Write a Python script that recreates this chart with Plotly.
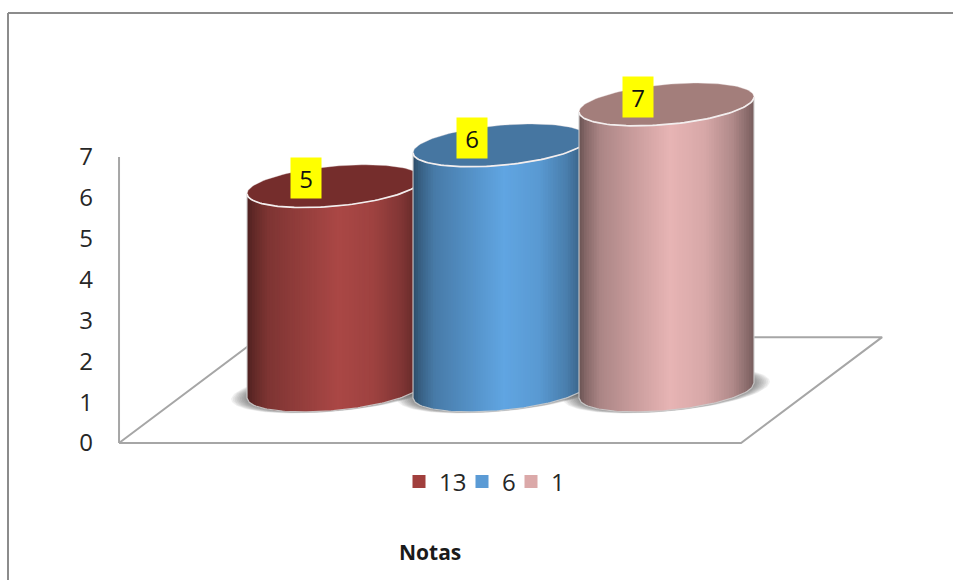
import numpy as np
import plotly.graph_objects as go

# Chart data
categories = ["13", "6", "1"]
values = [5, 6, 7]
y_ticks = [0, 1, 2, 3, 4, 5, 6, 7]
axis_title = "Notas"

# Colours per series: lit side and cylinder cap
side_colors = [(170, 71, 69), (96, 165, 226), (231, 180, 180)]
cap_colors = ["#752d2c", "#4676a1", "#a37e7b"]
legend_colors = ["#a13f3d", "#5b9bd5", "#dba9a9"]

# Canvas and the pixel scale of the two axes
W, H = 953, 580
PX_X0, PX_Y0 = 334.5, 443       # pixel of category 0 and of value 0
PX_PER_CAT, PX_PER_UNIT = 166, 40.86
X_RANGE = [-PX_X0 / PX_PER_CAT, (W - PX_X0) / PX_PER_CAT]
Y_RANGE = [(PX_Y0 - H) / PX_PER_UNIT, PX_Y0 / PX_PER_UNIT]

# Oblique projection used for the 3-D look, in axis units
CYL_RX = 0.527        # cylinder half width
CYL_RY = 0.49         # ellipse half height
CYL_SHEAR = 0.184     # rise of the ellipse towards its right end
FLOOR_LIFT = 1.285    # height of the cylinder base centre above the front edge
FLOOR_DX, FLOOR_DY = 0.85, 2.59
X_MIN, X_MAX = -1.298, 2.449   # front edge of the floor
N_STRIPS = 70

# Horizontal brightness profile of a lit cylinder
SHADE_POS = [0.0, 0.04, 0.12, 0.30, 0.52, 0.72, 0.88, 0.96, 1.0]
SHADE_VAL = [0.46, 0.58, 0.74, 0.86, 1.0, 0.93, 0.76, 0.60, 0.52]


def ellipse(cx, cy, t, grow_x=0.0, grow_y=0.0):
    """Sheared ellipse lying on a horizontal plane."""
    rx = CYL_RX + grow_x
    return (cx + rx * np.cos(t),
            cy + (CYL_RY + grow_y) * np.sin(t) + CYL_SHEAR * (rx / CYL_RX) * np.cos(t))


def front_edge(dx):
    """Lower outline of the ellipse at horizontal offset dx from its centre."""
    u = np.clip(dx / CYL_RX, -1, 1)
    return -CYL_RY * np.sqrt(1 - u * u) + CYL_SHEAR * u


def shade_color(rgb, k):
    return "rgb({},{},{})".format(*[int(round(c * k)) for c in rgb])


fig = go.Figure()
common = dict(hoverinfo="skip", showlegend=False)
GRID = dict(color="#a6a6a6", width=2)

# Value axis line and the floor parallelogram
fig.add_trace(go.Scatter(x=[X_MIN, X_MIN], y=[y_ticks[0], y_ticks[-1]],
                         mode="lines", line=GRID, **common))
fig.add_trace(go.Scatter(
    x=[X_MIN, X_MAX, X_MAX + FLOOR_DX, X_MIN + FLOOR_DX, X_MIN],
    y=[0, 0, FLOOR_DY, FLOOR_DY, 0],
    mode="lines", line=GRID, **common))

# Soft contact shadows on the floor
theta = np.linspace(0, 2 * np.pi, 121)
for i in range(len(values)):
    for g in np.linspace(0.095, 0.0, 10):
        sx, sy = ellipse(i, FLOOR_LIFT, theta, grow_x=g, grow_y=g * 0.3)
        fig.add_trace(go.Scatter(
            x=sx, y=sy, mode="lines", fill="toself", line=dict(width=0),
            fillcolor="rgba(60,60,60,0.08)", **common))

# Cylinders, left to right so each one hides part of its neighbour
for i, (value, rgb, cap) in enumerate(zip(values, side_colors, cap_colors)):
    edges = np.linspace(-CYL_RX, CYL_RX, N_STRIPS + 1)
    for j in range(N_STRIPS):
        left = edges[j]
        right = edges[min(j + 2, N_STRIPS)]
        frac = (edges[j] + edges[j + 1] + 2 * CYL_RX) / (4 * CYL_RX)
        shade = float(np.interp(frac, SHADE_POS, SHADE_VAL))
        fine = np.linspace(left, right, 4)
        low = FLOOR_LIFT + front_edge(fine)
        fig.add_trace(go.Scatter(
            x=np.r_[i + fine, i + fine[::-1]],
            y=np.r_[low, (low + value)[::-1]],
            mode="lines", fill="toself", line=dict(width=0),
            fillcolor=shade_color(rgb, shade), **common))

    # Pale outline of the side wall
    fine = np.linspace(-CYL_RX, CYL_RX, 80)
    low = FLOOR_LIFT + front_edge(fine)
    fig.add_trace(go.Scatter(
        x=np.r_[i + fine[0], i + fine, i + fine[-1]],
        y=np.r_[low[0] + value, low, low[-1] + value],
        mode="lines", line=dict(color="rgba(205,205,205,0.9)", width=1.2), **common))

    # Cap
    top = FLOOR_LIFT + value
    cx, cy = ellipse(i, top, theta)
    fig.add_trace(go.Scatter(
        x=cx, y=cy, mode="lines", fill="toself", fillcolor=cap,
        line=dict(color="rgba(235,225,225,0.45)", width=0.8), **common))
    rim = np.linspace(np.pi, 2 * np.pi, 70)
    rx_, ry_ = ellipse(i, top, rim)
    fig.add_trace(go.Scatter(
        x=rx_, y=ry_, mode="lines",
        line=dict(color="#f3eeee", width=1.7), **common))

# One single-entry legend per series so the keys sit at their own positions
LEGEND_LEFT_PX = [399, 462, 511]
legends = {}
for k, (name, color, left_px) in enumerate(zip(categories, legend_colors, LEGEND_LEFT_PX)):
    key = "legend" if k == 0 else f"legend{k + 1}"
    fig.add_trace(go.Scatter(
        x=[None], y=[None], mode="markers", name=name, legend=key,
        marker=dict(symbol="square", size=13, color=color)))
    legends[key] = dict(xanchor="left", yanchor="middle", x=left_px / W, y=1 - 482 / H,
                        itemsizing="trace", font=dict(size=24, color="#262626"),
                        bgcolor="rgba(0,0,0,0)", itemclick=False, itemdoubleclick=False)

# Value labels on yellow tags
annotations = [
    dict(x=i - 0.172, y=FLOOR_LIFT + v + 0.19, xref="x", yref="y", text=str(v),
         showarrow=False, bgcolor="#ffff00", width=30, height=40, borderpad=0,
         font=dict(family="Open Sans", size=24, color="#111111"))
    for i, v in enumerate(values)
]

# Axis title, centred under the front edge of the floor
annotations.append(dict(
    x=(X_MIN + X_MAX) / 2, y=1 - 552 / H, xref="x", yref="paper", yanchor="middle",
    text="<b>" + axis_title + "</b>", showarrow=False,
    font=dict(family="Open Sans", size=21, color="#1a1a1a")))

paper_x = lambda px: px / W
paper_y = lambda px: 1 - px / H

fig.update_layout(
    width=W, height=H,
    margin=dict(l=0, r=0, t=0, b=0, autoexpand=False),
    paper_bgcolor="white", plot_bgcolor="rgba(0,0,0,0)",
    font=dict(family="Open Sans", size=24, color="#262626"),
    showlegend=True,
    xaxis=dict(range=X_RANGE, visible=False, fixedrange=True),
    yaxis=dict(range=Y_RANGE, tickmode="array", tickvals=y_ticks, ticks="",
               anchor="free", position=(PX_X0 + X_MIN * PX_PER_CAT) / W,
               ticklabelstandoff=26, showgrid=False, zeroline=False, showline=False,
               fixedrange=True),
    annotations=annotations,
    shapes=[
        # Chart frame along the left and top edges
        dict(type="line", xref="paper", yref="paper", x0=paper_x(8), x1=paper_x(8),
             y0=0, y1=paper_y(13), line=dict(color="#8c8c8c", width=2)),
        dict(type="line", xref="paper", yref="paper", x0=paper_x(8), x1=1,
             y0=paper_y(13), y1=paper_y(13), line=dict(color="#8c8c8c", width=2)),
    ],
    **legends,
)

fig.write_html("out.html", config=dict(displayModeBar=False))
